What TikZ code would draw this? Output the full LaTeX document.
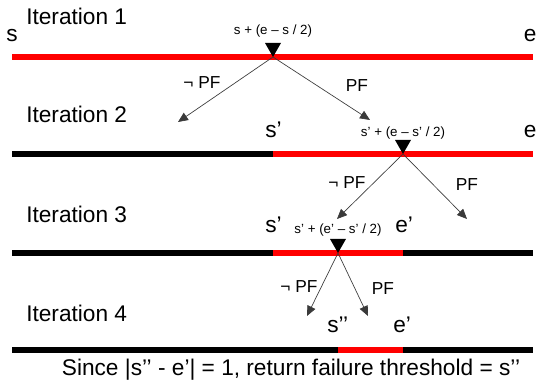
\documentclass[tikz,border=0pt]{standalone}
\usepackage{fontspec}
\setmainfont{Liberation Sans}
\usetikzlibrary{arrows.meta}
\definecolor{hit}{HTML}{FF0000}
\definecolor{miss}{HTML}{000000}
\definecolor{wire}{HTML}{3A3A3A}

\tikzset{
  bar/.style={line width=4.5pt},
  big/.style={font=\fontsize{17}{20}\selectfont,inner sep=0pt,anchor=base west},
  mid/.style={font=\fontsize{10}{12}\selectfont,inner sep=0pt,anchor=base},
  branch/.style={font=\fontsize{13}{15}\selectfont,inner sep=0pt},
  go/.style={-{Triangle[length=7.5pt,width=6.5pt]},wire,line width=0.5pt},
}
\newcommand{\probe}[1]{\fill[miss] (#1) -- ++(-8,-14) -- ++(16,0) -- cycle;}

\begin{document}
\begin{tikzpicture}[x=0.75pt,y=-0.75pt]
  \useasboundingbox (0,0) rectangle (537,391);

  % iteration 1
  \node[big] (it1) at (26,25) {Iteration 1};
  \node[big] (s1) at (6,42) {s};
  \node[big] (e1) at (523.5,42) {e};
  \draw[bar,hit] (12,57) -- (533,57);
  \coordinate (m1) at (273,57);
  \probe{m1}
  \node[mid] (h1) at (273,35) {s + (e – s / 2)};
  \coordinate (l1) at (178,122);
  \coordinate (r1) at (370,120);
  \draw[go] (m1) -- (l1);
  \draw[go] (m1) -- (r1);
  \node[branch] (nl1) at (202,83) {¬ PF};
  \node[branch] (nr1) at (357,86) {PF};

  % iteration 2
  \node[big] (it2) at (26,123) {Iteration 2};
  \node[big] (s2) at (265,138) {s’};
  \node[big] (e2) at (523.5,138) {e};
  \draw[bar,miss] (12,154) -- (273,154);
  \draw[bar,hit] (273,154) -- (533,154);
  \coordinate (m2) at (403,154);
  \probe{m2}
  \node[mid] (h2) at (403,137) {s’ + (e – s’ / 2)};
  \coordinate (l2) at (337,219);
  \coordinate (r2) at (467,219);
  \draw[go] (m2) -- (l2);
  \draw[go] (m2) -- (r2);
  \node[branch] (nl2) at (347,183) {¬ PF};
  \node[branch] (nr2) at (467,185) {PF};

  % iteration 3
  \node[big] (it3) at (26,223) {Iteration 3};
  \node[big] (s3) at (265,233) {s’};
  \node[big] (e3) at (395,233) {e’};
  \draw[bar,miss] (12,253) -- (273,253);
  \draw[bar,hit] (273,253) -- (403,253);
  \draw[bar,miss] (403,253) -- (533,253);
  \coordinate (m3) at (338,253);
  \probe{m3}
  \node[mid] (h3) at (338,234) {s’ + (e’ – s’ / 2)};
  \coordinate (l3) at (307,316);
  \coordinate (r3) at (368,316);
  \draw[go] (m3) -- (l3);
  \draw[go] (m3) -- (r3);
  \node[branch] (nl3) at (299,287) {¬ PF};
  \node[branch] (nr3) at (383,289) {PF};

  % iteration 4
  \node[big] (it4) at (26,322) {Iteration 4};
  \node[big] (s4) at (327,333) {s’’};
  \node[big] (e4) at (393,333) {e’};
  \draw[bar,miss] (12,350) -- (338,350);
  \draw[bar,hit] (338,350) -- (403,350);
  \draw[bar,miss] (403,350) -- (533,350);

  \node[big,anchor=base] (done) at (291,376)
       {Since |s’’ - e’| = 1, return failure threshold = s’’};
\end{tikzpicture}
\end{document}
